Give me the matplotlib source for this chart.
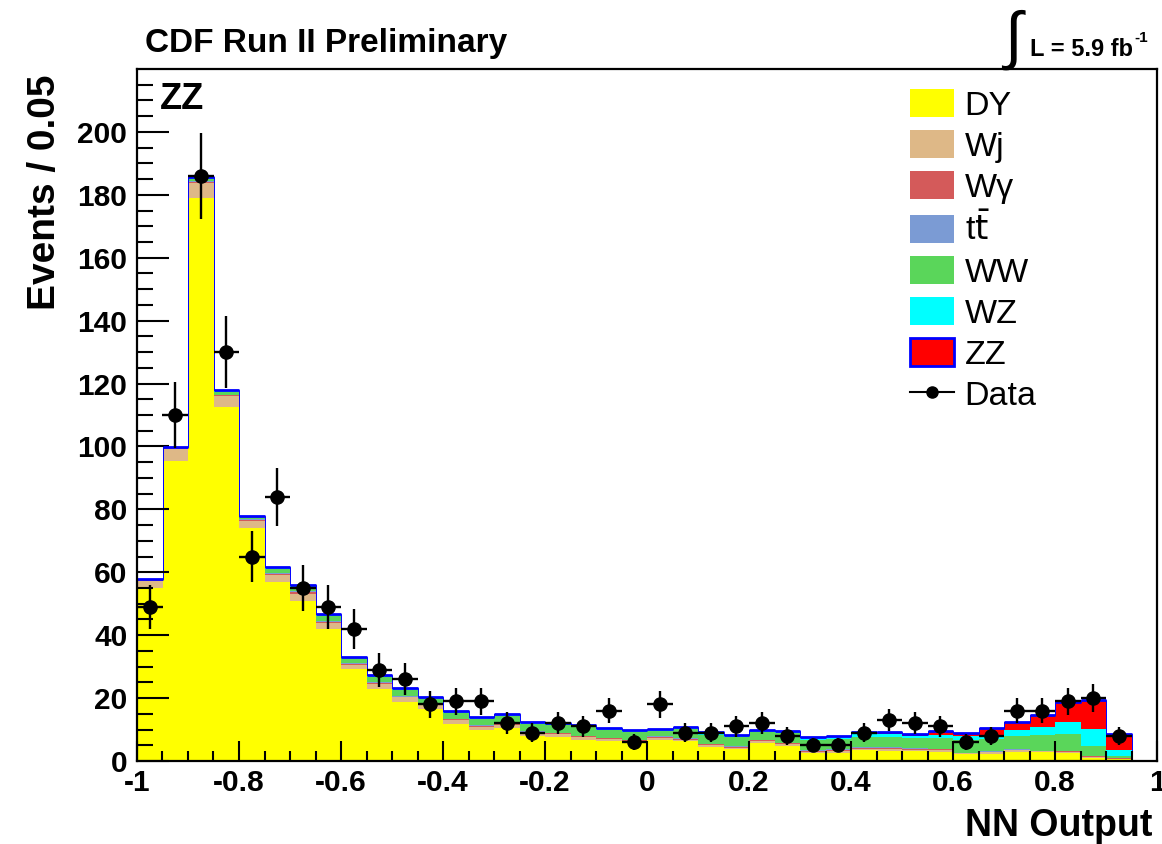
import numpy as np
import matplotlib
import matplotlib.pyplot as plt
from matplotlib.patches import Patch
from matplotlib.lines import Line2D
from matplotlib.ticker import MultipleLocator, FixedLocator

plt.rcParams['font.family'] = ['Liberation Sans', 'DejaVu Sans']
plt.rcParams['axes.unicode_minus'] = False

# binning of the NN output
edges = np.linspace(-1.0, 1.0, 41)
centers = 0.5 * (edges[:-1] + edges[1:])

# background / signal expectations per bin
dy = [55.0, 95.5, 179.0, 112.5, 74.0, 57.0, 51.0, 42.0, 29.2, 23.0,
      18.8, 16.5, 11.7, 9.9, 10.6, 8.0, 7.6, 6.7, 6.2, 5.6,
      6.6, 6.2, 4.4, 3.7, 5.8, 4.8, 2.5, 2.7, 3.4, 3.3,
      3.1, 3.0, 2.1, 2.3, 3.0, 2.9, 2.6, 1.1, 0.6, 0.0]
wj = [2.2, 3.7, 4.6, 3.5, 2.3, 2.1, 2.2, 1.8, 1.4, 1.5,
      1.4, 1.2, 1.2, 1.0, 1.0, 0.9, 0.9, 0.8, 0.7, 0.7,
      0.7, 0.6, 0.6, 0.5, 0.5, 0.5, 0.5, 0.5, 0.5, 0.5,
      0.4, 0.4, 0.3, 0.5, 0.4, 0.2, 0.3, 0.2, 0.1, 0.0]
wgamma = [0.3, 0.2, 0.4, 0.3, 0.3, 0.4, 0.4, 0.4, 0.3, 0.3,
          0.3, 0.3, 0.3, 0.3, 0.3, 0.3, 0.3, 0.3, 0.3, 0.3,
          0.3, 0.3, 0.3, 0.3, 0.3, 0.3, 0.3, 0.3, 0.3, 0.3,
          0.3, 0.3, 0.1, 0.2, 0.2, 0.1, 0.2, 0.2, 0.1, 0.0]
ttbar = [0.1, 0.1, 0.3, 0.2, 0.2, 0.3, 0.3, 0.3, 0.2, 0.2,
         0.2, 0.2, 0.2, 0.2, 0.2, 0.2, 0.2, 0.2, 0.2, 0.2,
         0.2, 0.2, 0.2, 0.2, 0.2, 0.2, 0.2, 0.2, 0.2, 0.2,
         0.2, 0.2, 0.1, 0.2, 0.1, 0.1, 0.1, 0.1, 0.1, 0.0]
ww = [0.2, 0.2, 0.8, 0.8, 0.7, 1.2, 1.4, 1.6, 1.5, 1.8,
      1.8, 1.7, 2.0, 2.0, 2.1, 2.3, 2.4, 2.7, 2.4, 2.3,
      1.8, 2.9, 2.9, 2.9, 2.4, 3.0, 3.2, 3.3, 3.3, 3.4,
      3.2, 3.3, 4.2, 3.7, 4.2, 4.9, 5.5, 3.2, 0.7, 0.0]
wz = [0.1, 0.1, 0.3, 0.3, 0.2, 0.3, 0.4, 0.4, 0.2, 0.3,
      0.3, 0.3, 0.3, 0.3, 0.3, 0.3, 0.3, 0.3, 0.3, 0.3,
      0.3, 0.4, 0.4, 0.4, 0.4, 0.5, 0.5, 0.6, 0.9, 0.9,
      0.8, 1.0, 1.1, 1.4, 1.8, 2.7, 3.7, 5.5, 1.8, 0.0]
zz = [0.1, 0.1, 0.3, 0.2, 0.2, 0.3, 0.3, 0.3, 0.2, 0.3,
      0.3, 0.3, 0.3, 0.3, 0.3, 0.3, 0.3, 0.3, 0.3, 0.3,
      0.3, 0.3, 0.3, 0.3, 0.3, 0.3, 0.4, 0.4, 0.6, 0.6,
      0.7, 1.4, 1.1, 2.1, 2.7, 3.6, 6.2, 9.1, 5.1, 0.0]

# observed events
data = [49, 110, 186, 130, 65, 84, 55, 49, 42, 29,
        26, 18, 19, 19, 12, 9, 12, 11, 16, 6,
        18, 9, 9, 11, 12, 8, 5, 5, 9, 13,
        12, 11, 6, 8, 16, 16, 19, 20, 8, 0]

labels = ['DY', 'Wj', 'W\u03b3', 't$\\bar{\\mathrm{t}}$', 'WW', 'WZ', 'ZZ']
colors = ['#ffff00', '#deb887', '#d45a5a', '#7b9bd4', '#5ad65a', '#00ffff', '#ff0000']
layers = [dy, wj, wgamma, ttbar, ww, wz, zz]

fig = plt.figure(figsize=(11.62, 8.44), dpi=100)
ax = fig.add_axes([137 / 1162, 1 - 761 / 844, 1020 / 1162, 692 / 844])

bottom = np.zeros(len(dy))
for vals, col in zip(layers, colors):
    top = bottom + np.array(vals)
    ax.stairs(top, edges, baseline=bottom, fill=True, color=col, lw=0)
    bottom = top
# ZZ contour: thin steps, heavier tops
ax.stairs(bottom, edges, color='#0000ff', lw=0.7)
ax.hlines(bottom[bottom > 0], edges[:-1][bottom > 0], edges[1:][bottom > 0],
          color='#0000ff', lw=2)

d = np.array(data, dtype=float)
m = d > 0
ax.errorbar(centers[m], d[m], xerr=0.025, yerr=np.sqrt(d[m]), fmt='o',
            color='black', ms=9.5, elinewidth=1.7, capsize=0, zorder=5)

ax.set_xlim(-1, 1)
ax.set_ylim(0, 220)
ax.xaxis.set_major_locator(MultipleLocator(0.2))
ax.xaxis.set_minor_locator(MultipleLocator(0.05))
ax.yaxis.set_major_locator(FixedLocator(np.arange(0, 201, 20)))
ax.yaxis.set_minor_locator(FixedLocator(np.arange(0, 216, 5)))
ax.xaxis.set_major_formatter(matplotlib.ticker.FuncFormatter(lambda v, p: '%g' % round(v, 2)))

ax.tick_params(axis='both', which='both', direction='in', width=1.5,
               labelsize=21.5, top=False, right=False)
ax.tick_params(axis='x', which='major', length=14.5, pad=6)
ax.tick_params(axis='x', which='minor', length=7.2)
ax.tick_params(axis='y', which='major', length=23, pad=7)
ax.tick_params(axis='y', which='minor', length=11.5)
for lab in ax.get_xticklabels() + ax.get_yticklabels():
    lab.set_fontweight('bold')
for sp in ax.spines.values():
    sp.set_linewidth(1.6)

# legend
handles = [Patch(facecolor=c, edgecolor=c, lw=0) for c in colors[:-1]]
handles.append(Patch(facecolor='#ff0000', edgecolor='#0000ff', lw=2))
handles.append(Line2D([], [], color='black', marker='o', ms=8, lw=1.5))
leg = ax.legend(handles, labels + ['Data'], loc='upper left',
                bbox_to_anchor=(0.758, 0.971), frameon=False, fontsize=24.5,
                handlelength=1.3, handleheight=0.88, handletextpad=0.3,
                labelspacing=0.25, borderpad=0, borderaxespad=0)

ax.text(0.022, 0.942, 'ZZ', transform=ax.transAxes, fontsize=26,
        fontweight='bold', va='baseline', ha='left')

fig.text(145 / 1162, 1 - 52 / 844, 'CDF Run II Preliminary', fontsize=24,
         fontweight='bold', va='baseline', ha='left')
fig.text(1004 / 1162, 1 - 57 / 844, '\u222b', fontsize=46, family='Liberation Sans',
         va='baseline', ha='left')
fig.text(1030 / 1162, 1 - 56 / 844, 'L = 5.9 fb', fontsize=17, fontweight='bold',
         va='baseline', ha='left')
fig.text(1134 / 1162, 1 - 42 / 844, '-1', fontsize=11, fontweight='bold',
         va='baseline', ha='left')

fig.text(1152 / 1162, 1 - 836 / 844, 'NN Output', fontsize=27, fontweight='bold',
         va='baseline', ha='right')
fig.text(45 / 1162, 1 - 75 / 844, 'Events / 0.05', fontsize=28, fontweight='bold',
         rotation=90, va='top', ha='center')

fig.savefig('out.png', dpi=100)
